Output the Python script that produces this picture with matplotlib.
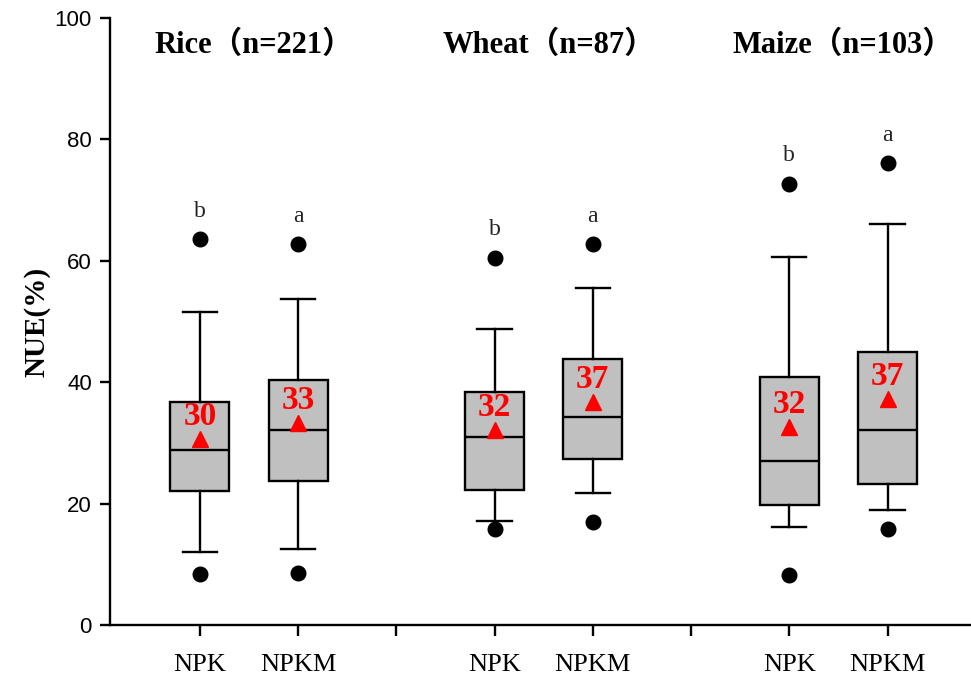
import matplotlib
matplotlib.use('Agg')
import matplotlib.pyplot as plt

groups = ['Rice', 'Wheat', 'Maize']
n_obs = [221, 87, 103]
treatments = ['NPK', 'NPKM']

# one entry per box: Rice NPK, Rice NPKM, Wheat NPK, Wheat NPKM, Maize NPK, Maize NPKM
q1 = [22.1, 23.7, 22.2, 27.3, 19.7, 23.3]
med = [28.9, 32.2, 31.0, 34.2, 27.0, 32.1]
q3 = [36.7, 40.3, 38.4, 43.8, 40.9, 45.0]
whislo = [12.0, 12.5, 17.1, 21.7, 16.1, 19.0]
whishi = [51.5, 53.7, 48.8, 55.6, 60.6, 66.1]
out_low = [8.4, 8.5, 15.8, 16.9, 8.2, 15.8]
out_high = [63.6, 62.7, 60.5, 62.7, 72.7, 76.1]
means = [30.6, 33.3, 32.1, 36.8, 32.7, 37.2]
mean_labels = ['30', '33', '32', '37', '32', '37']
letters = ['b', 'a', 'b', 'a', 'b', 'a']

SERIF = ['Liberation Serif', 'Noto Sans CJK SC', 'DejaVu Serif']
SANS = ['Liberation Sans', 'DejaVu Sans']

positions = []
for g in range(len(groups)):
    positions += [3 * g + 1, 3 * g + 2]

stats = []
for i in range(len(q1)):
    stats.append({'med': med[i], 'q1': q1[i], 'q3': q3[i],
                  'whislo': whislo[i], 'whishi': whishi[i],
                  'fliers': [out_low[i], out_high[i]], 'mean': means[i]})

fig = plt.figure(figsize=(9.71, 6.79), dpi=100)
ax = fig.add_axes([0.1133, 0.0795, 0.8867, 0.894])

ax.bxp(stats, positions=positions, widths=0.6, capwidths=0.35,
       patch_artist=True, showmeans=True,
       boxprops=dict(facecolor='#c0c0c0', edgecolor='black', linewidth=1.7),
       medianprops=dict(color='black', linewidth=1.7),
       whiskerprops=dict(color='black', linewidth=1.7),
       capprops=dict(color='black', linewidth=1.7),
       flierprops=dict(marker='o', markerfacecolor='black', markeredgecolor='black', markersize=10.5),
       meanprops=dict(marker='^', markerfacecolor='red', markeredgecolor='red', markersize=12))

for i, x in enumerate(positions):
    ax.text(x, means[i] + 3.7, mean_labels[i], color='red', fontsize=24, fontweight='bold',
            ha='center', va='center', family=SERIF, zorder=5)
    ax.text(x, out_high[i] + 4.6, letters[i], color='#222222', fontsize=17,
            ha='center', va='center', family=SERIF)

for g, name in enumerate(groups):
    ax.text(3 * g + 1.55, 95.5, f'{name}（n={n_obs[g]}）', fontsize=22, fontweight='bold',
            ha='center', va='center', family=SERIF)

ticks = [1, 2, 3, 4, 5, 6, 7, 8]
tick_labels = ['NPK', 'NPKM', '', 'NPK', 'NPKM', '', 'NPK', 'NPKM']
ax.set_xticks(ticks)
ax.set_xticklabels(tick_labels, fontsize=19, family=SERIF)
ax.set_xlim(0.085, 8.85)
ax.set_ylim(0, 100)
ax.set_yticks([0, 20, 40, 60, 80, 100])
ax.set_yticklabels(['0', '20', '40', '60', '80', '100'], fontsize=16, family=SANS)
ax.set_ylabel('NUE(%)', fontsize=21, fontweight='bold', family=SERIF, labelpad=3)

ax.spines['top'].set_visible(False)
ax.spines['right'].set_visible(False)
ax.spines['left'].set_linewidth(1.7)
ax.spines['bottom'].set_linewidth(1.7)
ax.tick_params(axis='y', direction='out', length=7, width=1.7, pad=6)
ax.tick_params(axis='x', direction='out', length=8, width=1.7, pad=13)

fig.savefig('out.png', dpi=100)
